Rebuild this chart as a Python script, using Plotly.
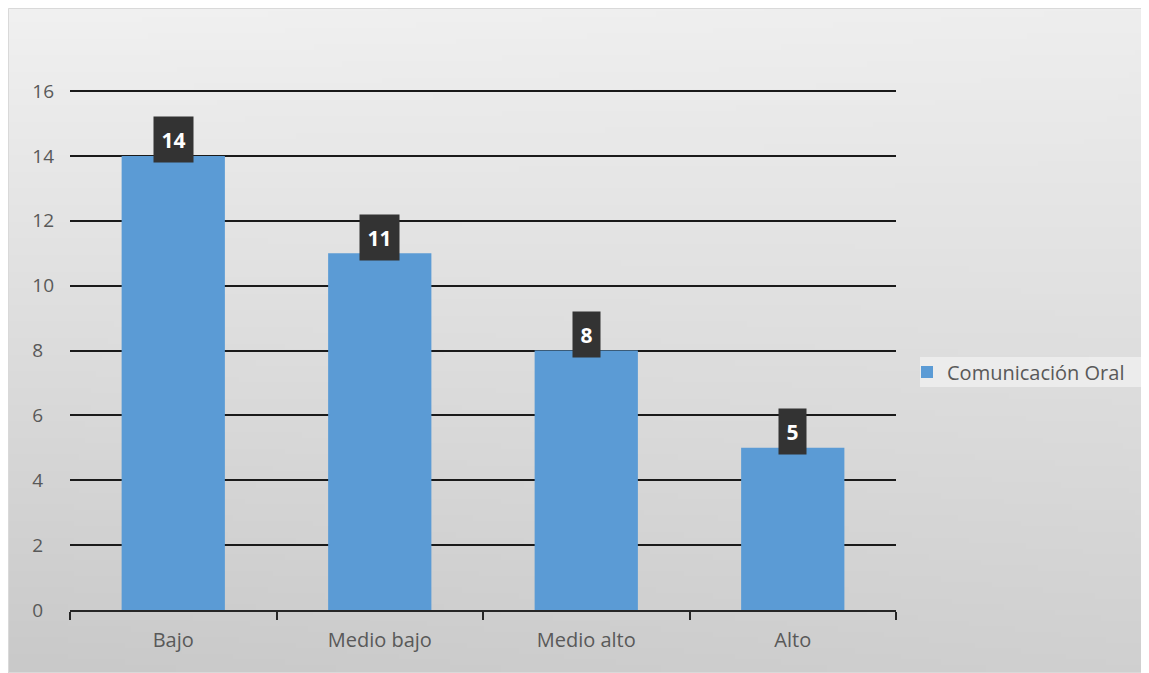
import base64, struct, zlib
import numpy as np
import plotly.graph_objects as go

categories = ["Bajo", "Medio bajo", "Medio alto", "Alto"]
values = [14, 11, 8, 5]
series_name = "Comunicación Oral"
y_ticks = [0, 2, 4, 6, 8, 10, 12, 14, 16]
y_ticktext = [str(t) + "\u2007" * (2 - len(str(t))) for t in y_ticks]

OFF = 8  # page body margin
W, H = 1149 - OFF, 673 - OFF
L, R, T, B = 70 - OFF, 896 - OFF, 88 - OFF, 610 - OFF
YTOP = 16 + 3 / ((610 - 91) / 16)
pw, ph = R - L, B - T

def px_x(p):  # page px -> paper
    return (p - OFF - L) / pw

def px_y(p):
    return (B - (p - OFF)) / ph

# gradient background image (PNG built in memory)
gw, gh = 200, 120
hh = np.linspace(0, 1, gw)[None, :]
vv = np.linspace(0, 1, gh)[:, None]
g = 241 - 40 * vv + 7 * hh * vv - 3 * hh * (1 - vv)
g = np.clip(g, 0, 255).astype(np.uint8)
raw = b"".join(b"\x00" + bytes(np.repeat(row[:, None], 3, axis=1).flatten()) for row in g)

def chunk(t, d):
    c = struct.pack(">I", len(d)) + t + d
    return c + struct.pack(">I", zlib.crc32(t + d) & 0xffffffff)

png = b"\x89PNG\r\n\x1a\n" + chunk(b"IHDR", struct.pack(">IIBBBBB", gw, gh, 8, 2, 0, 0, 0)) \
    + chunk(b"IDAT", zlib.compress(raw)) + chunk(b"IEND", b"")
src = "data:image/png;base64," + base64.b64encode(png).decode()

fig = go.Figure()
fig.add_trace(go.Bar(
    x=categories, y=values, name=series_name,
    marker=dict(color="#5b9bd5", line=dict(width=0)),
    width=0.5, showlegend=True,
))

for c, v in zip(categories, values):
    s = str(v)
    fig.add_annotation(
        x=c, y=v, text="<b>%s</b>" % s, showarrow=False,
        yanchor="middle", yshift=16,
        font=dict(family="Open Sans, sans-serif", size=21, color="white"),
        bgcolor="#333333", width=27 if len(s) == 1 else 39, height=45, borderpad=0,
    )

fig.add_layout_image(dict(
    source=src, xref="paper", yref="paper",
    x=px_x(OFF), y=px_y(OFF), sizex=px_x(1149) - px_x(OFF), sizey=px_y(OFF) - px_y(673),
    sizing="stretch", layer="below", xanchor="left", yanchor="top",
))
fig.add_shape(type="rect", xref="paper", yref="paper",
              x0=px_x(OFF + 0.5), y0=px_y(OFF + 0.5), x1=px_x(1148.5), y1=px_y(672.5),
              line=dict(color="#d9d9d9", width=1), layer="below")
fig.add_shape(type="rect", xref="paper", yref="paper",
              x0=px_x(920), y0=px_y(357), x1=px_x(1149), y1=px_y(387),
              line=dict(width=0), fillcolor="rgba(255,255,255,0.45)", layer="below")

fig.update_layout(
    width=W, height=H,
    margin=dict(l=L, r=W - R, t=T, b=H - B, pad=0),
    paper_bgcolor="white", plot_bgcolor="rgba(0,0,0,0)",
    font=dict(family="Open Sans, sans-serif", size=20, color="#595959"),
    bargap=0.5,
    legend=dict(x=px_x(907), y=px_y(372), xanchor="left", yanchor="middle",
                bgcolor="rgba(0,0,0,0)", font=dict(size=20, color="#595959"),
                itemwidth=30, traceorder="normal"),
    xaxis=dict(
        showgrid=False, showline=True, linecolor="#262626", linewidth=2,
        ticks="outside", tickson="boundaries", ticklen=8, tickwidth=2, tickcolor="#262626",
        tickfont=dict(size=20, color="#595959"), ticklabelstandoff=11,
    ),
    yaxis=dict(
        range=[0, YTOP], tickvals=y_ticks, ticktext=y_ticktext,
        showgrid=True, gridcolor="#1a1a1a", gridwidth=1.6,
        zeroline=False, showline=False, ticks="", ticklabelstandoff=15,
        tickfont=dict(size=19, color="#595959"),
    ),
)

fig.write_html("out.html")
